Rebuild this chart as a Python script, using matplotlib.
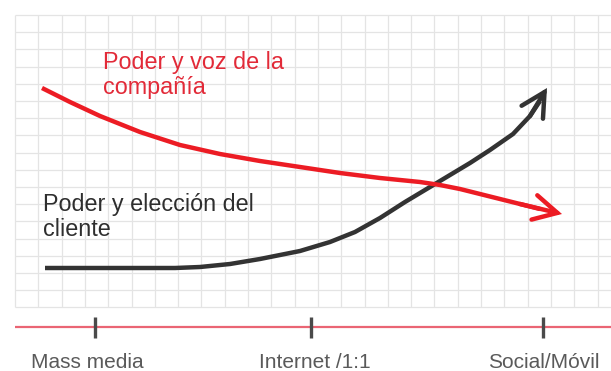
import numpy as np
import matplotlib
matplotlib.use("Agg")
from matplotlib import pyplot as plt

plt.rcParams["font.family"] = ["Liberation Sans", "DejaVu Sans"]

# eras along the horizontal axis
eras = ["Mass media", "Internet /1:1", "Social/Móvil"]
era_ticks = [95, 311, 543]
era_label_x = [87, 315, 544]

# company power / voice (screen-style coordinates, y grows downward)
company_x = [42, 70, 100, 140, 180, 220, 260, 300, 340, 380, 420, 440, 460,
             480, 500, 520, 540, 562]
company_y = [88, 102, 116, 132, 145, 154, 161, 167, 173, 178, 182, 185, 189,
             194, 199, 204, 209, 214]

# customer power / choice
customer_x = [45, 100, 150, 175, 200, 230, 260, 300, 330, 355, 380, 405, 435,
              470, 490, 513, 530, 540, 547]
customer_y = [268, 268, 268, 268, 267, 264, 259, 251, 242, 232, 218, 202, 184,
              163, 150, 134, 116, 101, 88]

company_label = "Poder y voz de la\ncompañía"
customer_label = "Poder y elección del\ncliente"

RED = "#ec1c24"
RED_TEXT = "#e22a38"
DARK = "#333333"

fig = plt.figure(figsize=(6.11, 3.71), dpi=100)
ax = fig.add_axes([0, 0, 1, 1])
ax.set_xlim(0, 611)
ax.set_ylim(371, 0)
ax.axis("off")

# background grid paper
gx = 15 + 23.3 * np.arange(26)
gy = 15 + 17.2 * np.arange(18)
ax.vlines(gx, 15, gy[-1], color="#e4e4e4", lw=0.9, zorder=0)
ax.hlines(gy, 15, 611, color="#e4e4e4", lw=0.9, zorder=0)

# timeline axis
ax.hlines(327, 15, 611, color="#ea6574", lw=1.6, zorder=1)
ax.vlines(era_ticks, 317, 338, color="#4a4a4a", lw=2.4, zorder=2)
for lx, name in zip(era_label_x, eras):
    ax.text(lx, 363, name, ha="center", va="center", fontsize=15, color="#5a5a5a")


def curve(xs, ys, color):
    ax.plot(xs[:-1], ys[:-1], color=color, lw=3.2, solid_capstyle="butt",
            solid_joinstyle="round", zorder=3)
    ax.annotate("", xy=(xs[-1], ys[-1]), xytext=(xs[-3], ys[-3]),
                arrowprops=dict(arrowstyle="->,head_length=0.85,head_width=0.45",
                                color=color, lw=3.2, mutation_scale=20,
                                shrinkA=0, shrinkB=0, joinstyle="miter"),
                zorder=4)


curve(customer_x, customer_y, DARK)
curve(company_x, company_y, RED)

ax.text(103, 75, company_label, ha="left", va="center", fontsize=16.8,
        color=RED_TEXT, linespacing=1.12)
ax.text(43, 217, customer_label, ha="left", va="center", fontsize=16.8,
        color="#2e2e2e", linespacing=1.12)

fig.savefig("out.png", dpi=100)
